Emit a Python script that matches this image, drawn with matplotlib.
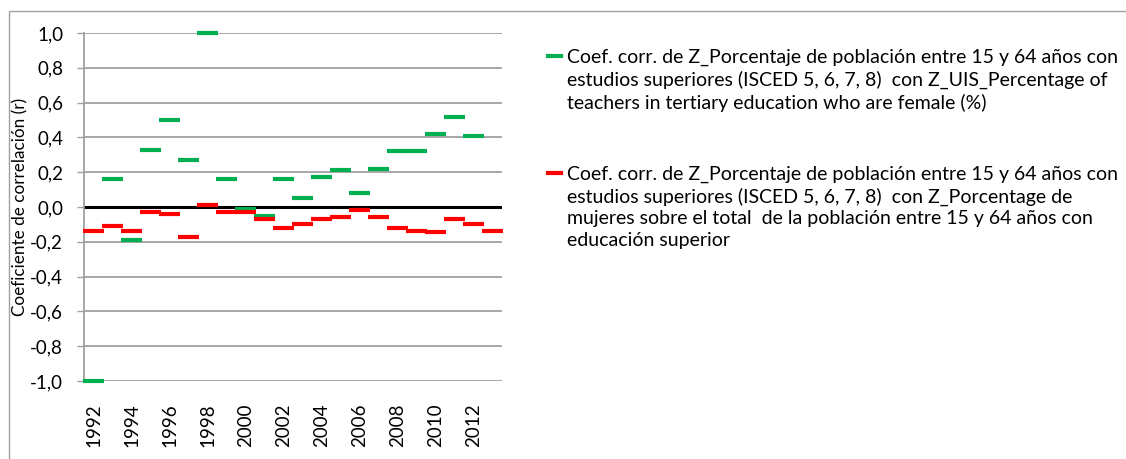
# correlation coefficients per year, dash markers
import numpy as np
import matplotlib.pyplot as plt
from matplotlib.patches import Rectangle
from matplotlib.lines import Line2D

years = list(range(1992, 2014))

# Coef. corr. con Z_UIS_Percentage of teachers in tertiary education who are female
green_vals = [-1.00, 0.16, -0.19, 0.33, 0.50, 0.27, 1.00, 0.16, -0.01, -0.05, 0.16,
              0.05, 0.17, 0.21, 0.08, 0.22, 0.32, 0.32, 0.42, 0.52, 0.41, np.nan]

# Coef. corr. con Z_Porcentage de mujeres ... con educación superior
red_vals = [-0.14, -0.11, -0.14, -0.03, -0.04, -0.17, 0.01, -0.03, -0.03, -0.07, -0.12,
            -0.10, -0.07, -0.06, -0.02, -0.06, -0.12, -0.14, -0.145, -0.07, -0.10, -0.14]

green_label = ("Coef. corr. de Z_Porcentaje de población entre 15 y 64 años con\n"
               "estudios superiores (ISCED 5, 6, 7, 8)  con Z_UIS_Percentage of\n"
               "teachers in tertiary education who are female (%)")
red_label = ("Coef. corr. de Z_Porcentaje de población entre 15 y 64 años con\n"
             "estudios superiores (ISCED 5, 6, 7, 8)  con Z_Porcentage de\n"
             "mujeres sobre el total  de la población entre 15 y 64 años con\n"
             "educación superior")

yticks = [-1.0, -0.8, -0.6, -0.4, -0.2, 0.0, 0.2, 0.4, 0.6, 0.8, 1.0]

plt.rcParams['font.family'] = ['Lato', 'DejaVu Sans']

W, H = 1126, 459
fig = plt.figure(figsize=(W / 100, H / 100), dpi=100)
ax = fig.add_axes([84 / W, 1 - 381 / H, 418 / W, 348 / H])

# outer chart border
fig.patches.append(Rectangle((9 / W, -0.05), 1.1, 1 - 11 / H + 0.05,
                             transform=fig.transFigure, fill=False,
                             edgecolor='#a0a0a0', linewidth=1.0))

x = np.arange(len(years))
half = 0.55

# gridlines
for v in yticks:
    ax.axhline(v, color='#a0a0a0', linewidth=1.3, zorder=1)
ax.axhline(0, color='black', linewidth=2.2, zorder=2)

ax.hlines(green_vals, x - half, x + half, color='#00b050', linewidth=3.0,
          zorder=3, clip_on=False)
ax.hlines(red_vals, x - half, x + half, color='#ff0000', linewidth=3.0,
          zorder=4, clip_on=False)

ax.set_xlim(-0.5, len(years) - 0.5)
ax.set_ylim(-1.0, 1.0)

ax.set_yticks(yticks)
ax.set_yticklabels([f"{v:.1f}".replace('.', ',') for v in yticks], fontsize=13.5)
ax.tick_params(axis='y', length=5, width=1.0, color='#a0a0a0', pad=10)

ax.set_xticks(x[::2])
ax.set_xticklabels([str(y) for y in years[::2]], rotation=90, fontsize=13.5)
ax.tick_params(axis='x', length=0, pad=16)

for s in ['top', 'right', 'bottom']:
    ax.spines[s].set_visible(False)
ax.spines['left'].set_color('#a0a0a0')
ax.spines['left'].set_linewidth(1.3)

fig.text(20 / W, 1 - 207 / H, "Coeficiente de correlación (r)", rotation=90,
         ha='center', va='center', fontsize=12.3)

# legend, swatch aligned with first text line
for label, color, ytop in [(green_label, '#00b050', 49), (red_label, '#ff0000', 166)]:
    fig.text(567 / W, 1 - ytop / H, label, ha='left', va='top', fontsize=14,
             linespacing=1.3)
    fig.add_artist(Line2D([548 / W, 561 / W], [1 - (ytop + 7) / H] * 2,
                          transform=fig.transFigure, color=color, linewidth=3.0))

plt.savefig("out.png", dpi=100)
